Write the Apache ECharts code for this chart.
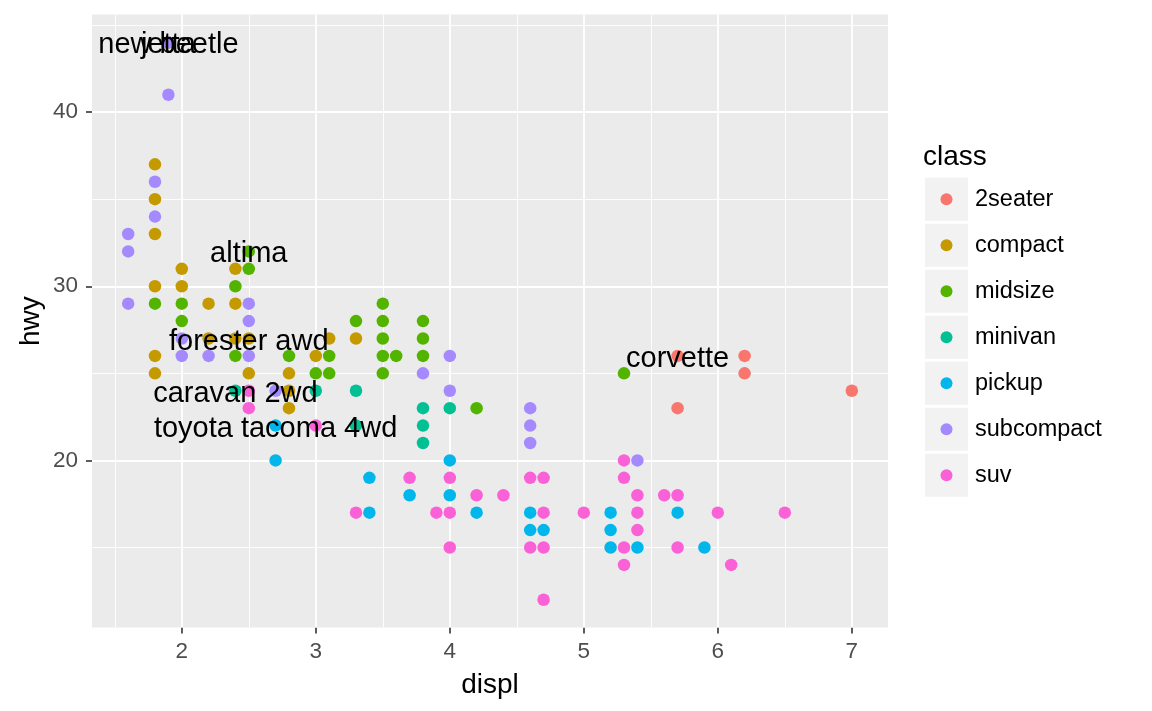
<!DOCTYPE html>
<html>
<head>
<meta charset="utf-8">
<script src="https://cdn.jsdelivr.net/npm/echarts@6/dist/echarts.min.js"></script>
<style>
html,body{margin:0;padding:0;background:#fff;}
#chart{width:1152px;height:711px;}
</style>
</head>
<body>
<div id="chart"></div>
<script>
// ---- data ----
const classes = ['2seater','compact','midsize','minivan','pickup','subcompact','suv'];
const classColors = ['#F8766D','#C49A00','#53B400','#00C094','#00B6EB','#A58AFF','#FB61D7'];

const twoseaterDispl = [5.7,5.7,6.2,6.2,7.0];
const twoseaterHwy   = [26,23,26,25,24];

const compactDispl = [1.9,1.8,1.8,1.8,2.0,2.4,1.8,2.0,2.2,2.4,2.2,2.4,2.5,1.8,3.0,1.8,2.5,2.8,2.8,2.8,3.1,3.3];
const compactHwy   = [44,37,35,33,31,31,30,30,29,29,27,27,27,26,26,25,25,25,24,23,27,27];

const midsizeDispl = [2.5,2.5,2.4,1.8,2.0,2.0,2.4,2.8,3.1,3.0,3.1,3.3,3.5,3.5,3.5,3.5,3.5,3.6,3.8,3.8,3.8,4.2,5.3];
const midsizeHwy   = [32,31,30,29,29,28,26,26,26,25,25,28,29,28,27,26,25,26,28,27,26,23,25];

const minivanDispl = [2.4,3.0,3.3,3.3,3.8,3.8,3.8,4.0];
const minivanHwy   = [24,24,24,22,23,22,21,23];

const pickupDispl = [2.7,2.7,3.4,3.4,3.7,4.0,4.0,4.2,4.6,4.6,4.7,5.2,5.2,5.2,5.4,5.7,5.9];
const pickupHwy   = [22,20,19,17,18,20,18,17,17,16,16,17,16,15,15,17,15];

const subcompactDispl = [1.9,1.9,1.8,1.8,1.6,1.6,1.6,2.0,2.0,2.2,2.5,2.5,2.5,2.7,3.8,4.0,4.0,4.6,4.6,4.6,5.4];
const subcompactHwy   = [44,41,36,34,33,32,29,27,26,26,29,28,26,24,25,26,24,23,22,21,20];

const suvDispl = [2.5,2.5,3.0,3.3,3.7,3.9,4.0,4.0,4.0,4.2,4.4,4.6,4.7,4.7,4.6,4.7,4.7,5.0,5.3,5.3,5.4,5.6,5.7,5.4,5.4,5.3,5.7,5.3,6.0,6.5,6.1];
const suvHwy   = [24,23,22,17,19,17,19,17,15,18,18,19,19,17,15,15,12,17,20,19,18,18,18,17,16,15,15,14,17,17,14];

const labelNames = ['corvette','jetta','altima','caravan 2wd','toyota tacoma 4wd','new beetle','forester awd'];
const labelDispl = [5.7,1.9,2.5,2.4,2.7,1.9,2.5];
const labelHwy   = [26,44,32,24,22,44,27];

const xTicks = [2,3,4,5,6,7];
const xMinor = [1.5,2.5,3.5,4.5,5.5,6.5];
const yTicks = [20,30,40];
const yMinor = [15,25,35,45];

// ---- build ----
const classDispl = [twoseaterDispl,compactDispl,midsizeDispl,minivanDispl,pickupDispl,subcompactDispl,suvDispl];
const classHwy = [twoseaterHwy,compactHwy,midsizeHwy,minivanHwy,pickupHwy,subcompactHwy,suvHwy];
const FONT = '"Liberation Sans", Arial, Helvetica, sans-serif';

const pair = (xs, ys) => xs.map((x, i) => [x, ys[i]]);

const gridLines = []
  .concat(xTicks.map(v => ({xAxis: v, lineStyle: {width: 1.8}})))
  .concat(xMinor.map(v => ({xAxis: v, lineStyle: {width: 0.9}})))
  .concat(yTicks.map(v => ({yAxis: v, lineStyle: {width: 1.8}})))
  .concat(yMinor.map(v => ({yAxis: v, lineStyle: {width: 0.9}})));

const series = [{
  name: '__grid',
  type: 'scatter',
  data: [],
  silent: true,
  z: 1,
  markLine: {
    silent: true,
    z: 1,
    symbol: ['none','none'],
    label: {show: false},
    lineStyle: {color: '#ffffff', type: 'solid'},
    emphasis: {disabled: true},
    animation: false,
    data: gridLines
  }
}];

classes.forEach((c, i) => {
  series.push({
    name: c,
    type: 'scatter',
    z: 2,
    symbol: 'circle',
    symbolSize: 12.5,
    itemStyle: {color: classColors[i], opacity: 1},
    emphasis: {disabled: true},
    data: pair(classDispl[i], classHwy[i])
  });
});

series.push({
  name: '__labels',
  type: 'custom',
  z: 3,
  silent: true,
  data: labelNames.map((n, i) => [labelDispl[i], labelHwy[i]]),
  renderItem: function (params, api) {
    const p = api.coord([api.value(0), api.value(1)]);
    return {
      type: 'text',
      x: p[0],
      y: p[1] + 3,
      style: {
        text: labelNames[params.dataIndex],
        fill: '#000000',
        fontSize: 29,
        fontFamily: FONT,
        align: 'center',
        verticalAlign: 'middle'
      }
    };
  }
});

const chart = echarts.init(document.getElementById('chart'), null, {renderer: 'canvas'});
chart.setOption({
  animation: false,
  backgroundColor: '#ffffff',
  textStyle: {fontFamily: FONT},
  title: {
    text: 'class',
    left: 923,
    top: 143,
    padding: 0,
    textStyle: {fontSize: 28, fontWeight: 'normal', color: '#000', fontFamily: FONT}
  },
  grid: {
    left: 92, top: 14.6, width: 796, height: 613,
    show: true, backgroundColor: '#ebebeb', borderWidth: 0, z: 0
  },
  legend: [{
    data: classes,
    orient: 'vertical',
    left: 925, top: 177.7,
    padding: 0,
    itemWidth: 43, itemHeight: 43, itemGap: 3,
    icon: 'rect',
    itemStyle: {color: '#f2f2f2', borderWidth: 0},
    textStyle: {fontSize: 23.5, color: '#000', fontFamily: FONT, padding: [0, 0, 0, 2]},
    selectedMode: false
  }, {
    data: classes,
    orient: 'vertical',
    left: 940.5, top: 193.2,
    padding: 0,
    itemWidth: 12, itemHeight: 12, itemGap: 34,
    icon: 'circle',
    formatter: () => ' ',
    textStyle: {fontSize: 8, lineHeight: 10, color: 'rgba(0,0,0,0)'},
    selectedMode: false
  }],
  xAxis: {
    type: 'value',
    min: 1.33, max: 7.27,
    splitLine: {show: false},
    axisLine: {show: false},
    axisTick: {show: true, customValues: xTicks, length: 6, lineStyle: {color: '#333333', width: 1.6}},
    axisLabel: {customValues: xTicks, fontSize: 22.5, color: '#4d4d4d', margin: 13, fontFamily: FONT},
    name: 'displ',
    nameLocation: 'middle',
    nameGap: 44,
    nameTextStyle: {fontSize: 28, color: '#000', fontFamily: FONT}
  },
  yAxis: {
    type: 'value',
    min: 10.4, max: 45.6,
    splitLine: {show: false},
    axisLine: {show: false},
    axisTick: {show: true, customValues: yTicks, length: 6, lineStyle: {color: '#333333', width: 1.6}},
    axisLabel: {customValues: yTicks, fontSize: 22.5, color: '#4d4d4d', margin: 14, fontFamily: FONT},
    name: 'hwy',
    nameLocation: 'middle',
    nameMoveOverlap: false,
    nameGap: 47,
    nameTextStyle: {fontSize: 28, color: '#000', fontFamily: FONT}
  },
  series: series
});
</script>
</body>
</html>
